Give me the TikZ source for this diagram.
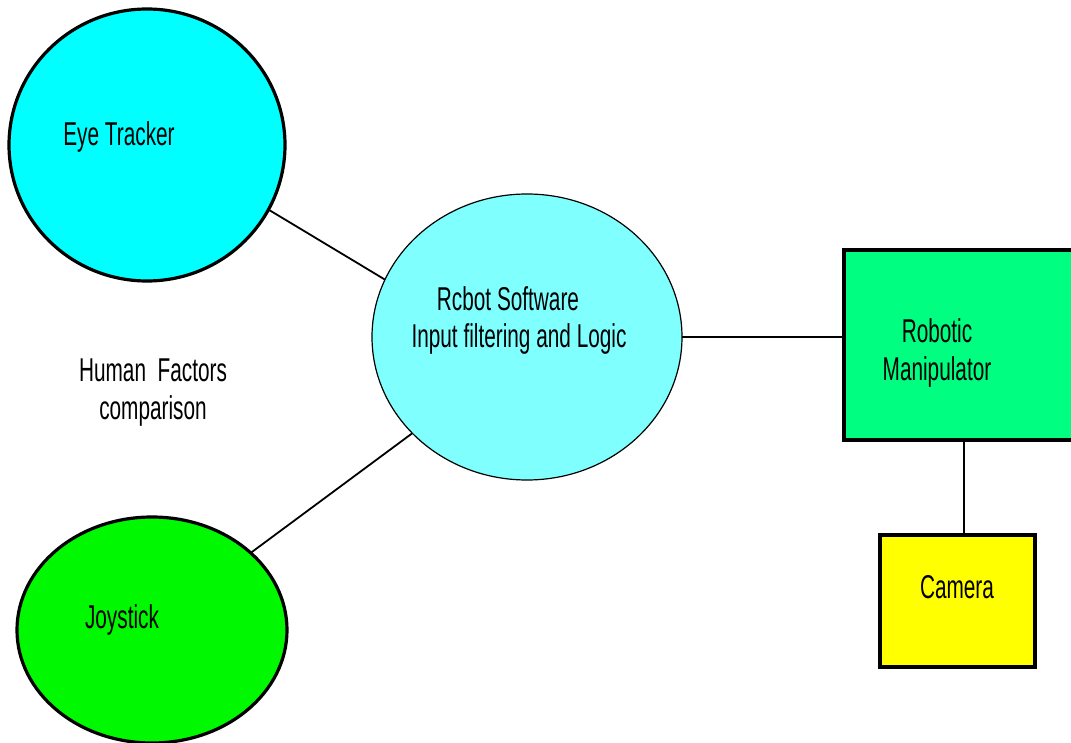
\documentclass[tikz,border=0pt]{standalone}
\usepackage{fontspec}
\setmainfont{Liberation Sans}[FakeStretch=0.63]
\usetikzlibrary{shapes.geometric}
\definecolor{eyecol}{HTML}{00FFFF}
\definecolor{softcol}{HTML}{80FFFF}
\definecolor{joycol}{HTML}{00F800}
\definecolor{mancol}{HTML}{00FF80}
\definecolor{camcol}{HTML}{FFFF00}
\tikzset{
  thickborder/.style={draw=black, line width=3.2pt, inner sep=0pt, outer sep=0pt},
  thinborder/.style={draw=black, line width=1.2pt, inner sep=0pt, outer sep=0pt},
  lbl/.style={font=\fontsize{33}{38}\selectfont, inner sep=0pt, align=center},
  conn/.style={draw=black, line width=1.8pt},
  heavyconn/.style={draw=black, line width=2.6pt}
}
\begin{document}
\begin{tikzpicture}[x=1pt,y=-1pt]
\useasboundingbox[fill=white] (0,0) rectangle (1071,743);
% shapes
\node[ellipse, thickborder, fill=eyecol, minimum width=276pt, minimum height=272pt] (eye) at (147,145) {};
\node[ellipse, thickborder, fill=joycol, minimum width=270pt, minimum height=226pt] (joy) at (152,630) {};
\node[ellipse, thinborder, fill=softcol, minimum width=310pt, minimum height=286pt] (soft) at (527,337) {};
\node[rectangle, thickborder, fill=mancol, minimum width=236pt, minimum height=190pt] (manip) at (962,345) {};
\node[rectangle, thickborder, fill=camcol, minimum width=155pt, minimum height=132pt] (cam) at (957.5,601) {};
% connectors
\draw[conn] (eye.-28) -- (soft.158);
\draw[conn] (joy.38) -- (soft.220);
\draw[conn] (soft.east) -- (soft.east -| manip.west);
\draw[heavyconn] ([xshift=6.5pt]cam.north) -- ([xshift=6.5pt]cam.north |- manip.south);
% labels
\node[lbl] (eyetext) at (119,137) {Eye Tracker};
\node[lbl] (joytext) at (122,620) {Joystick};
\node[lbl] (softtext1) at (508,299) {Rcbot Software};
\node[lbl] (softtext2) at (519,339) {Input filtering and Logic};
\node[lbl] (maniptext) at (937,353) {Robotic\\Manipulator};
\node[lbl] (camtext) at (957,587) {Camera};
\node[lbl] (hftext) at (153,393) {Human\ \ Factors\\comparison};
\end{tikzpicture}
\end{document}
